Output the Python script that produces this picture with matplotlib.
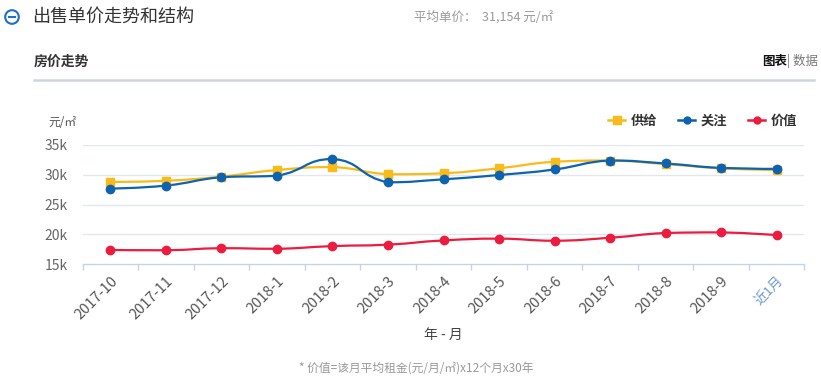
import matplotlib
matplotlib.use("Agg")
import matplotlib.pyplot as plt
import numpy as np
from matplotlib.path import Path
from matplotlib.patches import PathPatch, Circle
from matplotlib.lines import Line2D

plt.rcParams['font.family'] = ['Noto Sans CJK SC', 'DejaVu Sans']

# chart data (in yuan per m2)
months = ['2017-10', '2017-11', '2017-12', '2018-1', '2018-2', '2018-3', '2018-4',
          '2018-5', '2018-6', '2018-7', '2018-8', '2018-9', '近1月']
supply = [28800, 29000, 29700, 30800, 31300, 30100, 30250,
          31100, 32200, 32400, 31800, 31100, 30800]
attention = [27700, 28200, 29600, 29850, 32650, 28750, 29250,
             29970, 30900, 32400, 31900, 31150, 31000]
value = [17400, 17350, 17700, 17600, 18050, 18300, 19000,
         19300, 18950, 19450, 20250, 20350, 19900]
y_ticks = [15000, 20000, 25000, 30000, 35000]

c_supply = '#f8bb19'
c_attn = '#0d63b0'
c_value = '#eb1c3f'

W, H = 821, 383
fig = plt.figure(figsize=(W / 100, H / 100), dpi=100)

def fx(px):
    return px / W

def fy(py):
    return 1 - py / H

# smooth curve through the points (bezier, control points kept inside each segment)
def smooth_path(xs, ys, sx=55.5, sy=5.965 / 1000, k=0.5):
    pts = np.column_stack([xs, ys]).astype(float)
    n = len(pts)
    cps = []
    for i in range(n):
        if i == 0 or i == n - 1:
            cps.append((pts[i], pts[i]))
            continue
        prev, cur, nxt = pts[i - 1], pts[i], pts[i + 1]
        v = nxt - prev
        d0 = np.hypot((cur[0] - prev[0]) * sx, (cur[1] - prev[1]) * sy)
        d1 = np.hypot((nxt[0] - cur[0]) * sx, (nxt[1] - cur[1]) * sy)
        tot = d0 + d1 if d0 + d1 > 0 else 1
        b = cur - v * k * d0 / tot
        a = cur + v * k * d1 / tot
        b[1] = np.clip(b[1], min(prev[1], cur[1]), max(prev[1], cur[1]))
        a[1] = np.clip(a[1], min(nxt[1], cur[1]), max(nxt[1], cur[1]))
        cps.append((b, a))
    verts = [pts[0]]
    codes = [Path.MOVETO]
    for i in range(n - 1):
        verts += [cps[i][1], cps[i + 1][0], pts[i + 1]]
        codes += [Path.CURVE4] * 3
    return Path(verts, codes)

ax = fig.add_axes([fx(82.7), fy(264.3), fx(804.3) - fx(82.7), fy(145) - fy(264.3)])
x = np.arange(len(months))

series = [(supply, c_supply, 's', 6.2, '供给'),
          (attention, c_attn, 'o', 6.0, '关注'),
          (value, c_value, 'o', 6.0, '价值')]
handles = []
for vals, col, mk, ms, name in series:
    ax.add_patch(PathPatch(smooth_path(x, vals), facecolor='none', edgecolor=col,
                           lw=1.6, zorder=3, capstyle='round'))
    ax.plot(x, vals, ls='none', marker=mk, ms=ms, color=col, zorder=4)
    handles.append(Line2D([], [], color=col, lw=1.8, marker=mk, ms=ms - 1, label=name))

ax.set_xlim(-0.5, len(months) - 0.5)
ax.set_ylim(15000, 35000)
ax.set_yticks(y_ticks)
ax.set_yticklabels(['%dk' % (v // 1000) for v in y_ticks])
for v in y_ticks[1:]:
    ax.axhline(v, color='#e2e6ee', lw=1.0, zorder=1)
ax.tick_params(axis='y', length=0, pad=11, labelsize=10, labelcolor='#666666')

ax.set_xticks(x)
ax.set_xticklabels(months, rotation=45, ha='right', va='top', rotation_mode='anchor')
ax.set_xticks(np.arange(len(months) + 1) - 0.5, minor=True)
ax.tick_params(axis='x', which='major', length=0, pad=7, labelsize=10.5, labelcolor='#555555')
ax.tick_params(axis='x', which='minor', length=4, width=1, color='#c6d2e6')
ax.get_xticklabels()[-1].set_color('#6d9ad0')
ax.get_xticklabels()[-1].set_fontsize(9.5)
for s in ['top', 'right', 'left']:
    ax.spines[s].set_visible(False)
ax.spines['bottom'].set_color('#c6d2e6')
ax.spines['bottom'].set_linewidth(1.0)
ax.set_xlabel('年 - 月', fontsize=10, color='#444444', labelpad=4)

leg = fig.legend(handles=handles, loc='center right', bbox_to_anchor=(fx(797), fy(121)),
                 ncol=3, frameon=False, handlelength=1.3, handletextpad=0.4,
                 columnspacing=1.6, borderaxespad=0, borderpad=0,
                 prop={'size': 9.5, 'weight': 'bold'})
for t in leg.get_texts():
    t.set_color('#333333')

# header and decorations
fig.patches.append(Circle((12 / 100, (H - 17) / 100), 0.068, transform=fig.dpi_scale_trans,
                          facecolor='none', edgecolor='#1b6fd0', lw=1.5))
fig.add_artist(Line2D([fx(8.8), fx(15.2)], [fy(17), fy(17)], color='#1b6fd0', lw=1.5))
fig.text(fx(32), fy(17), '出售单价走势和结构', fontsize=13, color='#333333', va='center')
fig.text(fx(414), fy(17), '平均单价：  31,154 元/㎡', fontsize=9, color='#999999', va='center')
fig.text(fx(34), fy(62), '房价走势', fontsize=10, fontweight='bold', color='#333333', va='center')
fig.text(fx(787), fy(61), '| 数据', fontsize=9, color='#777777', va='center', ha='left')
fig.text(fx(787), fy(61), '图表', fontsize=9, color='#111111', va='center', ha='right',
         fontweight='bold')
fig.add_artist(Line2D([fx(34), fx(814)], [fy(80), fy(80)], color='#cfd5e0', lw=1.8))
fig.text(fx(48), fy(123), '元/㎡', fontsize=8.5, color='#555555', va='center')
fig.text(fx(416), fy(368), '* 价值=该月平均租金(元/月/㎡)x12个月x30年', fontsize=8.5,
         color='#999999', va='center', ha='center')

fig.savefig('out.png', dpi=100)
